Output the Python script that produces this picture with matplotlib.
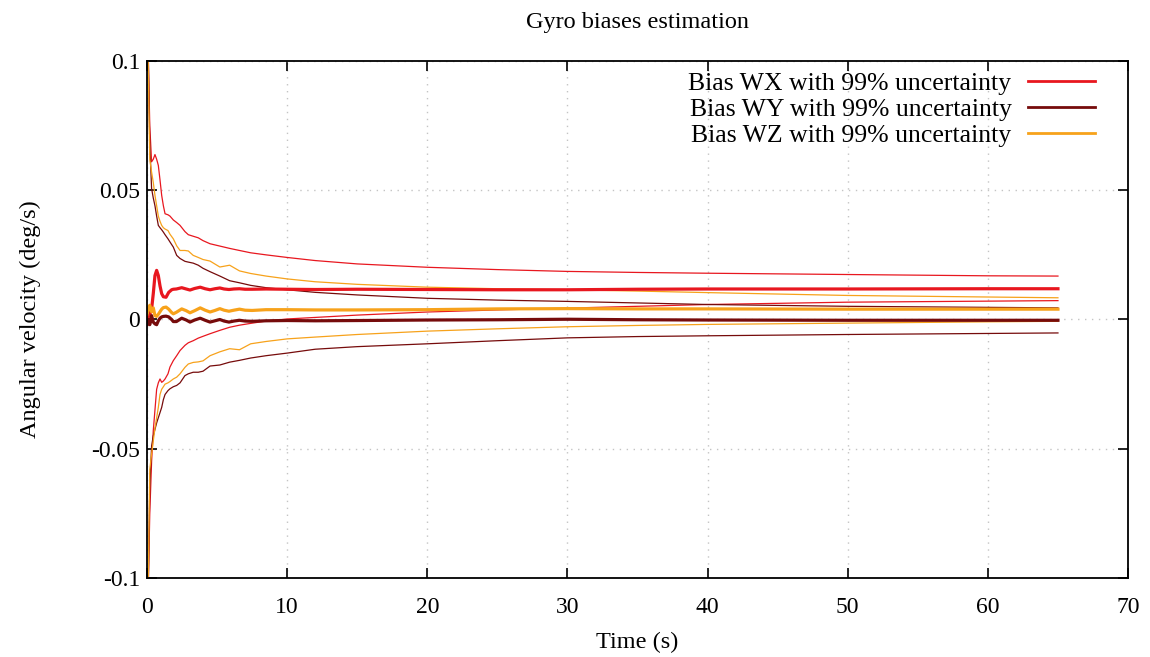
import matplotlib
matplotlib.use('Agg')
import matplotlib.pyplot as plt
from matplotlib.ticker import FormatStrFormatter

# time grid for the bias estimates (s)
t_est = [0.0, 0.1, 0.2, 0.33, 0.45, 0.57, 0.69, 0.81, 0.93, 1.05, 1.17, 1.36, 1.55, 1.76, 1.88,
         2.1, 2.48, 2.8, 3.07, 3.4, 3.8, 4.15, 4.5, 4.85, 5.2, 5.5, 5.85, 6.2, 6.6, 7.0, 7.5,
         8.5, 10, 12, 15, 20, 25, 30, 35, 40, 50, 60, 65]

wx_est = [0.0, 0.001, 0.002, 0.004, 0.010, 0.017, 0.019, 0.017, 0.013, 0.010, 0.0088, 0.0086,
          0.0105, 0.0115, 0.0117, 0.0118, 0.0123, 0.0118, 0.0114, 0.0120, 0.0125, 0.0119, 0.0115,
          0.0119, 0.0122, 0.0118, 0.0116, 0.0118, 0.0119, 0.0117, 0.0117, 0.0118, 0.0117, 0.0116,
          0.0117, 0.0116, 0.0115, 0.0115, 0.0117, 0.0118, 0.0118, 0.0119, 0.0119]

wy_est = [-0.002, 0.0, -0.002, 0.0015, -0.001, -0.0017, -0.002, -0.0005, 0.0005, 0.0010, 0.0012,
          0.0013, 0.0010, 0.0, -0.0008, -0.0008, 0.0005, -0.0002, -0.0010, -0.0002, 0.0005,
          -0.0003, -0.0010, -0.0005, 0.0, -0.0006, -0.0010, -0.0006, -0.0003, -0.0006, -0.0007,
          -0.0005, -0.0004, -0.0005, -0.0004, -0.0002, -0.0001, 0.0001, -0.0001, -0.0002,
          -0.0003, -0.0003, -0.0003]

wz_est = [0.002, 0.004, 0.0055, 0.003, 0.0045, 0.0015, 0.0012, 0.002, 0.003, 0.004, 0.0046,
          0.0048, 0.004, 0.0027, 0.0022, 0.0028, 0.0041, 0.0034, 0.0026, 0.0034, 0.0045, 0.0036,
          0.0029, 0.0035, 0.0042, 0.0036, 0.0032, 0.0036, 0.0040, 0.0036, 0.0035, 0.0038, 0.0038,
          0.0037, 0.0037, 0.0038, 0.0041, 0.0042, 0.0041, 0.0041, 0.0040, 0.0040, 0.0040]

# time grid for the 99% bounds (s)
t_bnd = [0.0, 0.1, 0.2, 0.33, 0.45, 0.57, 0.69, 0.81, 0.93, 1.05, 1.17, 1.29, 1.5, 1.64, 1.88,
         2.12, 2.36, 2.71, 2.95, 3.3, 3.66, 4.0, 4.5, 5.2, 5.9, 6.6, 7.4, 8.5, 10, 12, 15, 20,
         25, 30, 35, 40, 50, 60, 65]

wx_up = [0.15, 0.100, 0.075, 0.061, 0.062, 0.0638, 0.062, 0.0596, 0.054, 0.048, 0.044, 0.0409,
         0.0405, 0.040, 0.0385, 0.0375, 0.0364, 0.034, 0.0328, 0.0322, 0.0316, 0.0305, 0.0293,
         0.0284, 0.0275, 0.0267, 0.0258, 0.025, 0.024, 0.0228, 0.0215, 0.0202, 0.0193, 0.0186,
         0.0182, 0.0179, 0.0174, 0.0169, 0.0168]
wx_lo = [-0.15, -0.101, -0.075, -0.055, -0.043, -0.035, -0.027, -0.0245, -0.023, -0.0243,
         -0.0238, -0.023, -0.021, -0.0184, -0.0159, -0.014, -0.012, -0.010, -0.009, -0.0082,
         -0.0072, -0.0065, -0.0055, -0.0042, -0.003, -0.0022, -0.0015, -0.0006, 0.0002, 0.0008,
         0.0017, 0.0029, 0.0037, 0.0044, 0.0051, 0.0058, 0.0067, 0.0071, 0.0073]

wy_up = [0.15, 0.10, 0.068, 0.0506, 0.047, 0.044, 0.040, 0.0364, 0.0355, 0.0347, 0.0338, 0.0328,
         0.0312, 0.030, 0.028, 0.0248, 0.0236, 0.0225, 0.0222, 0.0218, 0.021, 0.0198, 0.0185,
         0.0168, 0.0150, 0.0142, 0.0132, 0.0123, 0.0115, 0.0105, 0.0095, 0.0082, 0.0075, 0.0070,
         0.0064, 0.0058, 0.0051, 0.0047, 0.0045]
wy_lo = [-0.15, -0.101, -0.065, -0.049, -0.045, -0.0425, -0.040, -0.038, -0.036, -0.034, -0.031,
         -0.029, -0.0275, -0.0268, -0.026, -0.0255, -0.0245, -0.0217, -0.021, -0.0204, -0.0204,
         -0.0200, -0.0180, -0.0176, -0.0165, -0.0158, -0.0149, -0.0140, -0.0130, -0.0115,
         -0.0105, -0.0094, -0.0082, -0.0071, -0.0066, -0.0063, -0.0058, -0.0054, -0.0052]

wz_up = [0.15, 0.095, 0.062, 0.057, 0.053, 0.048, 0.044, 0.040, 0.038, 0.0364, 0.0355, 0.035,
         0.0344, 0.033, 0.0312, 0.0285, 0.0267, 0.0267, 0.0265, 0.0248, 0.024, 0.0232, 0.0226,
         0.0203, 0.021, 0.0188, 0.0178, 0.0168, 0.0157, 0.0146, 0.0136, 0.0125, 0.0119, 0.0115,
         0.0110, 0.0104, 0.0093, 0.0087, 0.0084]
wz_lo = [-0.15, -0.098, -0.058, -0.052, -0.047, -0.042, -0.038, -0.034, -0.029, -0.027, -0.026,
         -0.025, -0.0245, -0.024, -0.023, -0.0223, -0.021, -0.0185, -0.0172, -0.0166, -0.0164,
         -0.016, -0.014, -0.0125, -0.0113, -0.0117, -0.0094, -0.0085, -0.0075, -0.0068, -0.0058,
         -0.0045, -0.0036, -0.0028, -0.0023, -0.0019, -0.0014, -0.0009, -0.0007]

labels = ['Bias WX with 99% uncertainty', 'Bias WY with 99% uncertainty',
          'Bias WZ with 99% uncertainty']
colors = ['#e8171f', '#760b0b', '#f7a21b']

plt.rcParams['font.family'] = ['Liberation Serif', 'DejaVu Serif']
plt.rcParams['axes.unicode_minus'] = False

fig = plt.figure(figsize=(11.5, 6.57), dpi=100)
ax = fig.add_axes([0.1278, 0.1202, 0.8531, 0.787])

series = [(wx_est, wx_up, wx_lo), (wy_est, wy_up, wy_lo), (wz_est, wz_up, wz_lo)]
for (est, up, lo), col in zip(series, colors):
    ax.plot(t_bnd, up, color=col, lw=0.9)
    ax.plot(t_bnd, lo, color=col, lw=0.9)
for (est, up, lo), col, lab in zip(series, colors, labels):
    ax.plot(t_est, est, color=col, lw=2.3, label=lab)

ax.set_xlim(0, 70)
ax.set_ylim(-0.1, 0.1)
ax.set_xticks(range(0, 71, 10))
ax.set_yticks([-0.1, -0.05, 0, 0.05, 0.1])
ax.yaxis.set_major_formatter(FormatStrFormatter('%g'))
ax.tick_params(direction='in', length=7, width=1.2, top=True, right=True, labelsize=17)
ax.tick_params(axis='x', pad=14)
ax.tick_params(axis='y', pad=5)
ax.grid(True, color='#c4c4c4', linestyle=(0, (1, 4)), lw=1)
for s in ax.spines.values():
    s.set_linewidth(1.3)

ax.set_title('Gyro biases estimation', fontsize=17.5, pad=24)
ax.set_xlabel('Time (s)', fontsize=17.5, labelpad=10)
ax.set_ylabel('Angular velocity (deg/s)', fontsize=17.5, labelpad=36)

leg = ax.legend(loc='upper right', markerfirst=False, frameon=False, fontsize=18.5,
                handlelength=2.6, handletextpad=0.65, labelspacing=0.11,
                bbox_to_anchor=(0.982, 1.008), borderaxespad=0.2)
for line in leg.get_lines():
    line.set_linewidth(2.0)

fig.savefig('out.png', dpi=100)
